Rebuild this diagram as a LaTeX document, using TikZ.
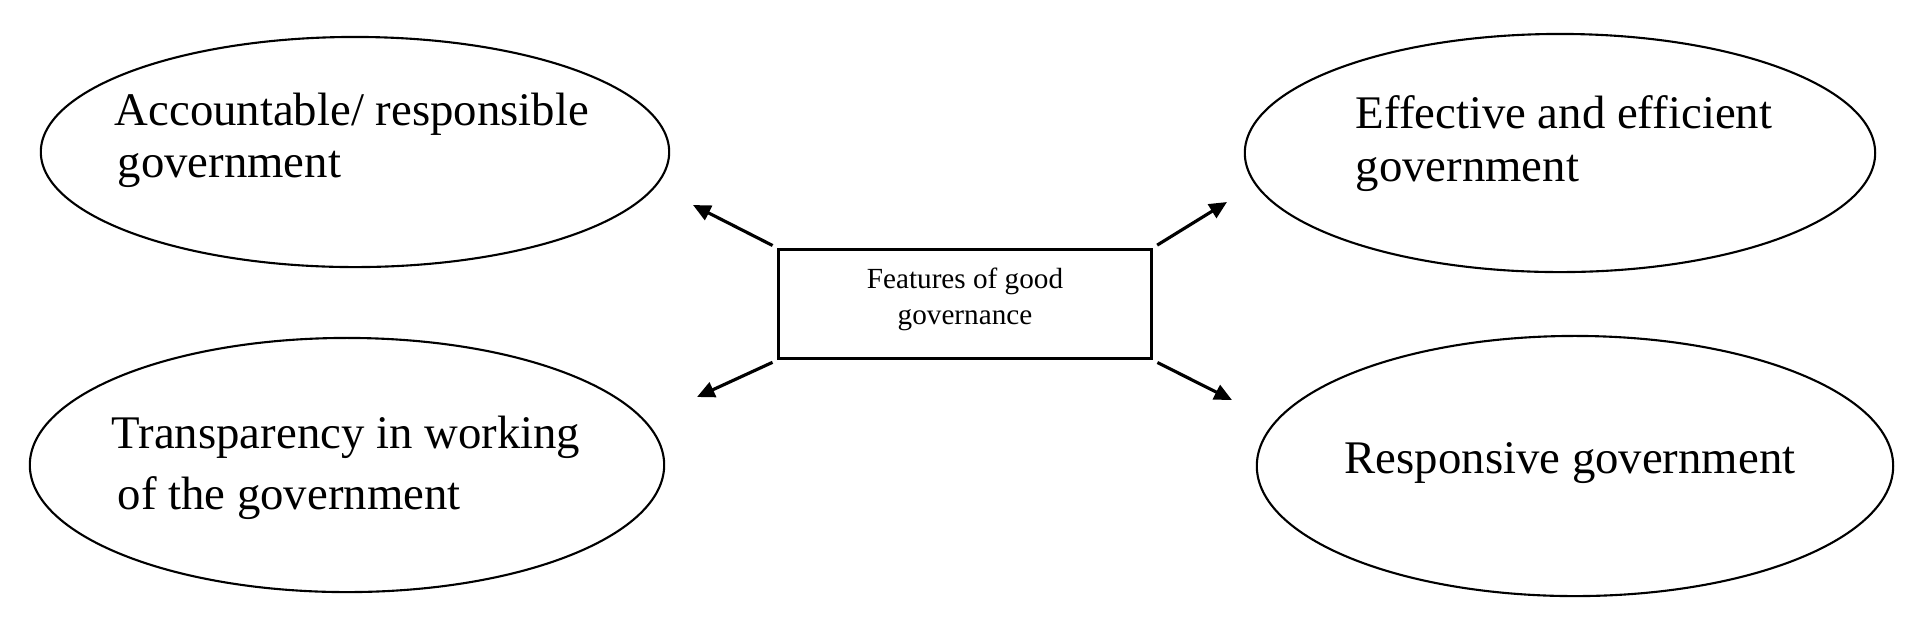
\documentclass[tikz,border=0pt]{standalone}
\usepackage{fontspec}
\setmainfont{Liberation Serif}
\usetikzlibrary{shapes.geometric,arrows.meta}

\begin{document}
\begin{tikzpicture}[x=0.01cm,y=-0.01cm,
    feature/.style={draw,ellipse,line width=0.6pt,inner sep=0pt},
    lbl/.style={anchor=base west,inner sep=0pt,font=\fontsize{13.3}{15}\selectfont},
    arr/.style={line width=0.9pt,shorten <=1.5pt,-{Triangle[length=5pt,width=4.5pt]}}]
    \useasboundingbox (0,0) rectangle (1917,629);

    \node[feature,minimum width=6.28cm,minimum height=2.30cm] (acc) at (355,152) {};
    \node[feature,minimum width=6.34cm,minimum height=2.54cm] (tra) at (347,465) {};
    \node[feature,minimum width=6.30cm,minimum height=2.38cm] (eff) at (1560,153) {};
    \node[feature,minimum width=6.36cm,minimum height=2.60cm] (res) at (1575,466) {};

    \node[lbl] (acc1) at (114,125) {Accountable/ responsible};
    \node[lbl] (acc2) at (117,177) {government};
    \node[lbl] (tra1) at (111,448) {Transparency in working};
    \node[lbl] (tra2) at (117,509) {of the government};
    \node[lbl] (eff1) at (1355,128) {Effective and efficient};
    \node[lbl] (eff2) at (1355,181) {government};
    \node[lbl] (res1) at (1344,473) {Responsive government};

    \node[draw,line width=0.9pt,minimum width=3.72cm,minimum height=1.09cm,inner sep=0pt] (feat) at (965,304) {};
    \node[align=center,inner sep=0pt,font=\fontsize{8.3}{10.2}\selectfont] (feattxt) at (965,299) {Features of good\\governance};

    \coordinate (tl) at (693,205);
    \coordinate (bl) at (697,397);
    \coordinate (tr) at (1227,202);
    \coordinate (br) at (1232,400);

    \draw[arr] (feat.north west) -- (tl);
    \draw[arr] (feat.south west) -- (bl);
    \draw[arr] (feat.north east) -- (tr);
    \draw[arr] (feat.south east) -- (br);
\end{tikzpicture}
\end{document}
